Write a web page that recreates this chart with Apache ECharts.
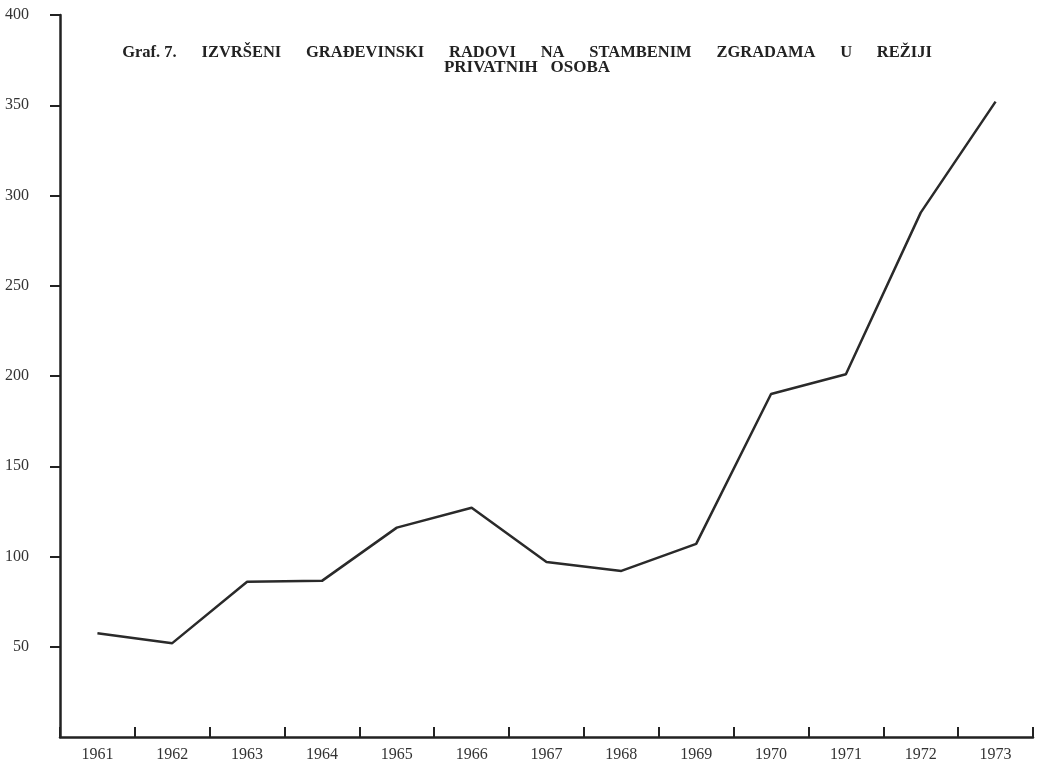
<!DOCTYPE html>
<html>
<head>
<meta charset="utf-8">
<script src="https://cdn.jsdelivr.net/npm/echarts@6/dist/echarts.min.js"></script>
<style>
html,body{margin:0;padding:0;background:#fff;}
#chart{width:1041px;height:767px;}
</style>
</head>
<body>
<div id="chart"></div>
<script>
const titleLines = ['Graf. 7.      IZVRŠENI      GRAĐEVINSKI      RADOVI      NA      STAMBENIM      ZGRADAMA      U      REŽIJI', 'PRIVATNIH   OSOBA'];
const years = ['1961','1962','1963','1964','1965','1966','1967','1968','1969','1970','1971','1972','1973'];
const values = [57.5, 52, 86, 86.5, 116, 127, 97, 92, 107, 190, 201, 290.5, 352];
const yTicks = [0, 50, 100, 150, 200, 250, 300, 350, 400];

const chart = echarts.init(document.getElementById('chart'), null, {renderer:'canvas'});
const serif = "Liberation Serif, DejaVu Serif, serif";
chart.setOption({
  backgroundColor: '#ffffff',
  animation: false,
  title: {
    text: '{a|' + titleLines[0] + '}\n{b|' + titleLines[1] + '}',
    left: 522,
    top: 40,
    textAlign: 'center',
    textStyle: {
      fontFamily: serif, fontWeight: 'bold', color: '#222',
      rich: {
        a: {fontFamily: serif, fontWeight: 'bold', fontSize: 16.5, lineHeight: 15, color: '#222', align: 'center'},
        b: {fontFamily: serif, fontWeight: 'bold', fontSize: 17, lineHeight: 15, color: '#222', align: 'center'}
      }
    }
  },
  grid: {left: 60, right: 8, top: 15, bottom: 30, containLabel: false},
  xAxis: {
    type: 'category',
    data: years,
    boundaryGap: true,
    axisLine: {lineStyle: {color: '#222', width: 2.5}},
    axisTick: {show: true, inside: true, length: 10, lineStyle: {color: '#222', width: 2}},
    axisLabel: {fontFamily: serif, fontSize: 16, color: '#333', margin: 10},
    splitLine: {show: false}
  },
  yAxis: {
    type: 'value',
    min: yTicks[0],
    max: yTicks[yTicks.length - 1],
    interval: 50,
    axisLine: {show: true, lineStyle: {color: '#222', width: 2.5}},
    axisTick: {show: true, length: 10, lineStyle: {color: '#222', width: 2}},
    axisLabel: {fontFamily: serif, fontSize: 16, color: '#333', margin: 31, showMinLabel: false,
      formatter: v => v === 0 ? '' : String(v)},
    splitLine: {show: false}
  },
  series: [{
    type: 'line',
    data: values,
    showSymbol: false,
    symbol: 'none',
    lineStyle: {color: '#2a2a2a', width: 2.5},
    z: 3
  }]
});
</script>
</body>
</html>
